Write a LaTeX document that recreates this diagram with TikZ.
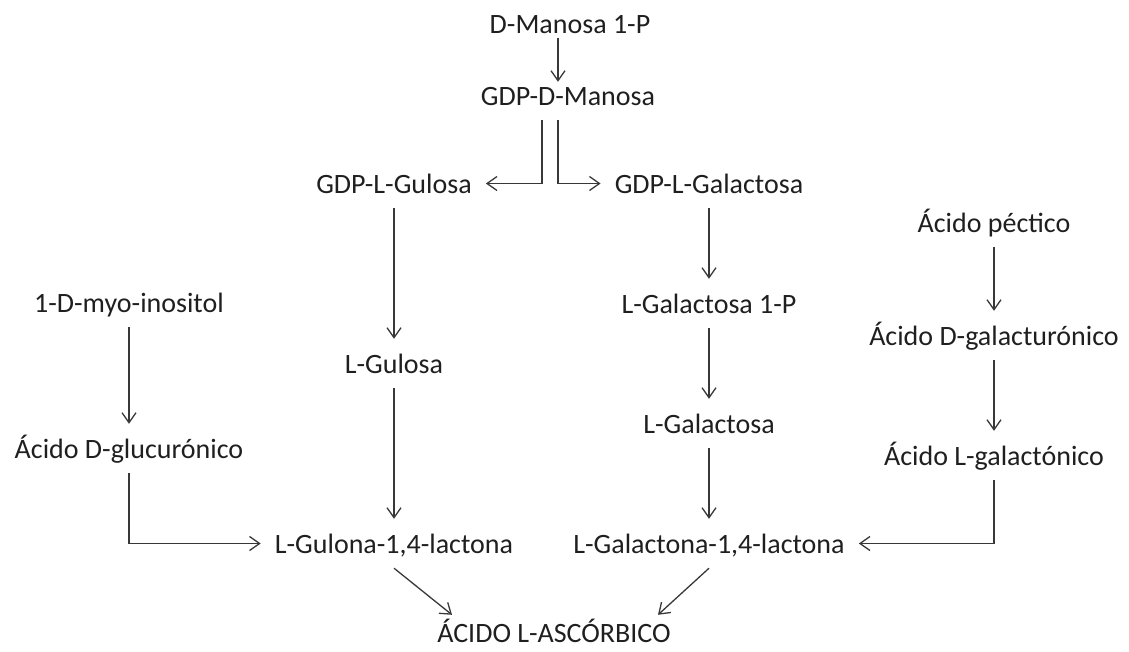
\documentclass[tikz,border=0pt]{standalone}
\usepackage{fontspec}
\setmainfont{Carlito}
\usetikzlibrary{positioning,arrows.meta}

\begin{document}
\begin{tikzpicture}[x=1pt,y=-1pt,on grid,
	met/.style={font=\fontsize{28pt}{34pt}\selectfont,text=black!88,inner sep=14pt,text height=20pt,text depth=1pt},
	arr/.style={draw=black!78,line width=1.3pt,-{Straight Barb[length=10pt,width=14pt]}}]
	\useasboundingbox (0,0) rectangle (1129,651);

	\node[met] (man1p) at (570,23.5) {D-Manosa 1-P};
	\node[met] (gdpman) at (568,95.5) {GDP-D-Manosa};

	\node[met] (gdpgul) at (394,183.5) {GDP-L-Gulosa};
	\node[met, below=180pt of gdpgul] (gul) {L-Gulosa};
	\node[met, below=180pt of gul] (gulon) {L-Gulona-1,4-lactona};

	\node[met] (gdpgal) at (709,183.5) {GDP-L-Galactosa};
	\node[met, below=120pt of gdpgal] (gal1p) {L-Galactosa 1-P};
	\node[met, below=120pt of gal1p] (gal) {L-Galactosa};
	\node[met, below=120pt of gal] (galon) {L-Galactona-1,4-lactona};

	\node[met] (pec) at (994,222.5) {Ácido péctico};
	\node[met, below=113pt of pec] (galu) {Ácido D-galacturónico};
	\node[met, below=120pt of galu] (galo) {Ácido L-galactónico};

	\node[met] (myo) at (129,302.5) {1-D-myo-inositol};
	\node[met, below=146pt of myo] (gluc) {Ácido D-glucurónico};

	\node[met, inner ysep=2pt] (asc) at (554,632.5) {ÁCIDO L-ASCÓRBICO};

	\draw[arr] ([xshift=-12pt,yshift=10pt]man1p.south) -- ([xshift=-10pt,yshift=-11pt]gdpman.north);
	\draw[arr] ([xshift=-26pt]gdpman.south) |- (gdpgul.east);
	\draw[arr] ([xshift=-10pt]gdpman.south) |- (gdpgal.west);
	\draw[arr] (gdpgul) -- (gul);
	\draw[arr] (gul) -- (gulon);
	\draw[arr] (gdpgal) -- (gal1p);
	\draw[arr] (gal1p) -- (gal);
	\draw[arr] (gal) -- (galon);
	\draw[arr] (pec) -- (galu);
	\draw[arr] (galu) -- (galo);
	\draw[arr] (myo) -- (gluc);
	\draw[arr] (gluc.south) |- (gulon.west);
	\draw[arr] (galo.south) |- (galon.east);
	\draw[arr] (gulon.south) -- ([xshift=-102pt,yshift=5pt]asc.north);
	\draw[arr] (galon.south) -- ([xshift=104pt,yshift=5pt]asc.north);
\end{tikzpicture}
\end{document}
